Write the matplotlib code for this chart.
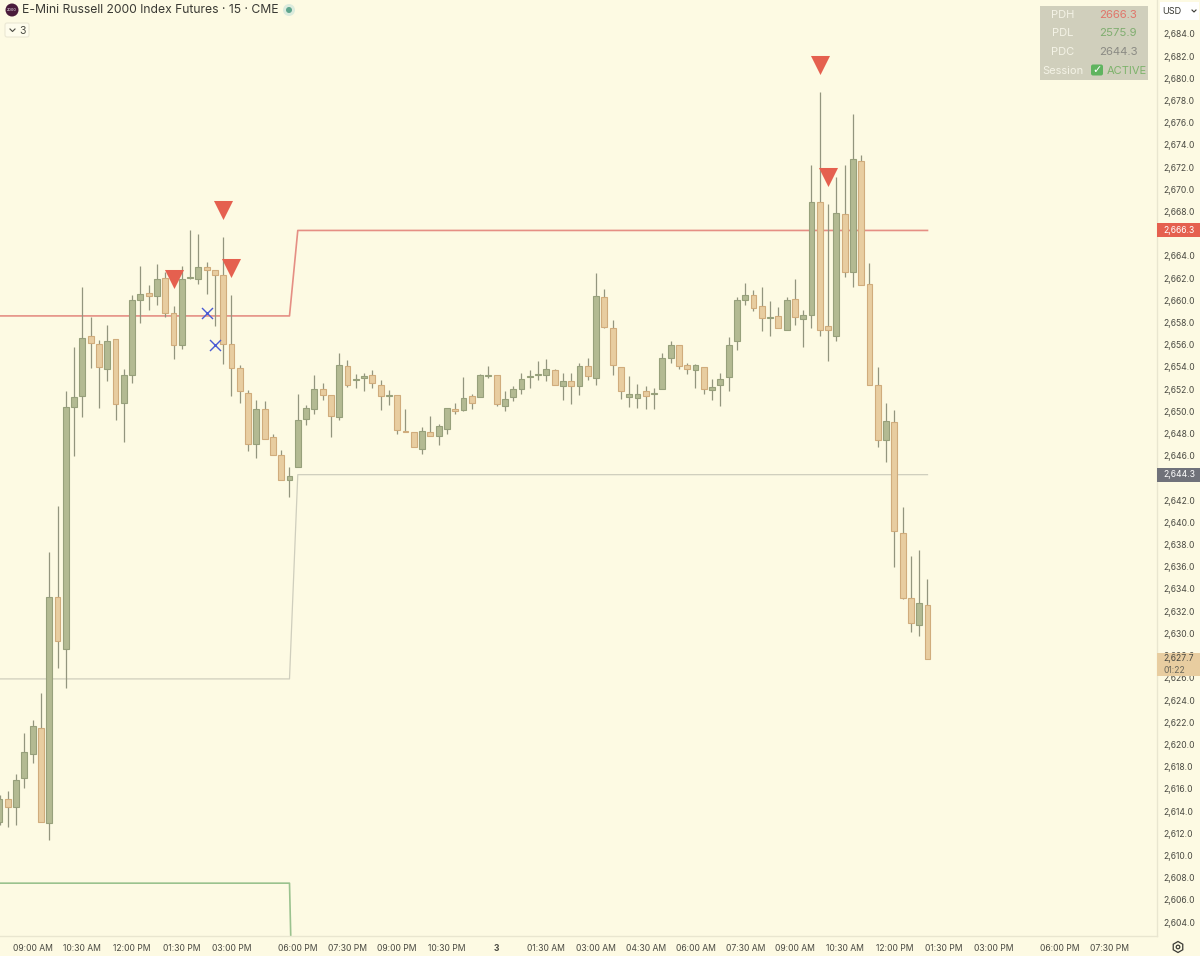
"""
E-Mini Russell 2000 15 min chart, rebuilt as plain matplotlib.
Output : out.png
"""
import matplotlib
matplotlib.use("Agg")
import matplotlib.pyplot as plt
from matplotlib.patches import Rectangle, Circle, FancyBboxPatch, RegularPolygon

plt.rcParams["font.family"] = ["Inter", "DejaVu Sans"]

# ── Candles ───────────────────────────────────────────────────
opens = [
    2613.0, 2615.1, 2614.4, 2617.0, 2619.1, 2621.5, 2612.9, 2633.3, 2628.6, 2650.4,
    2651.4, 2656.8, 2656.1, 2653.8, 2656.5, 2650.8, 2653.3, 2660.0, 2660.7, 2660.4,
    2662.0, 2658.9, 2656.0, 2662.0, 2661.9, 2663.0, 2662.7, 2662.3, 2656.1, 2653.9,
    2651.7, 2647.1, 2650.2, 2647.7, 2646.1, 2643.8, 2645.0, 2649.3, 2650.2, 2652.0,
    2651.5, 2649.5, 2654.1, 2652.8, 2653.0, 2653.3, 2652.4, 2651.4, 2651.5, 2648.2,
    2648.1, 2646.6, 2648.1, 2647.8, 2648.4, 2650.2, 2650.1, 2651.4, 2651.3, 2653.2,
    2653.3, 2650.5, 2651.3, 2652.0, 2653.1, 2653.3, 2653.3, 2653.7, 2652.3, 2652.7,
    2652.3, 2654.1, 2653.0, 2660.3, 2657.5, 2654.0, 2651.3, 2651.2, 2651.8, 2651.6,
    2652.0, 2654.8, 2656.0, 2654.2, 2653.7, 2654.0, 2651.9, 2652.4, 2653.1, 2656.3,
    2660.0, 2660.5, 2659.5, 2658.4, 2658.6, 2657.3, 2660.1, 2658.3, 2658.7, 2668.9,
    2657.7, 2656.8, 2667.8, 2662.6, 2672.6, 2661.5, 2652.4, 2647.4, 2649.0, 2639.0,
    2633.2, 2630.8, 2632.6,
]
closes = [
    2615.1, 2614.4, 2616.8, 2619.3, 2621.7, 2613.0, 2633.3, 2629.3, 2650.4, 2651.3,
    2656.6, 2656.2, 2654.0, 2656.3, 2650.7, 2653.3, 2660.0, 2660.6, 2660.4, 2661.9,
    2658.9, 2656.0, 2661.9, 2662.1, 2663.0, 2662.7, 2662.3, 2656.1, 2653.9, 2651.8,
    2647.1, 2650.2, 2647.5, 2646.1, 2643.8, 2644.2, 2649.2, 2650.3, 2652.0, 2651.5,
    2649.6, 2654.2, 2652.4, 2652.9, 2653.2, 2652.6, 2651.4, 2651.5, 2648.3, 2648.1,
    2646.8, 2648.2, 2647.8, 2648.7, 2650.3, 2650.0, 2651.2, 2650.8, 2653.3, 2653.3,
    2650.7, 2651.1, 2652.0, 2652.9, 2653.2, 2653.4, 2653.8, 2652.4, 2652.7, 2652.3,
    2654.1, 2653.2, 2660.4, 2657.6, 2654.2, 2651.8, 2651.6, 2651.6, 2651.4, 2651.7,
    2654.8, 2656.0, 2654.1, 2653.8, 2654.2, 2652.0, 2652.2, 2652.9, 2656.0, 2660.0,
    2660.5, 2659.3, 2658.4, 2658.5, 2657.5, 2660.0, 2658.5, 2658.7, 2668.9, 2657.3,
    2657.3, 2667.9, 2662.6, 2672.7, 2661.4, 2652.4, 2647.4, 2649.1, 2639.2, 2633.2,
    2630.9, 2632.7, 2627.7,
]
highs = [
    2615.4, 2615.8, 2617.3, 2621.0, 2622.2, 2624.6, 2637.3, 2641.5, 2651.8, 2655.8,
    2661.2, 2658.5, 2656.4, 2657.8, 2656.5, 2653.8, 2660.5, 2663.1, 2661.4, 2663.3,
    2662.6, 2659.5, 2663.1, 2666.3, 2666.0, 2663.5, 2662.7, 2665.7, 2660.5, 2654.2,
    2651.9, 2651.0, 2650.9, 2648.0, 2646.5, 2645.0, 2651.6, 2650.6, 2653.3, 2652.6,
    2651.5, 2655.3, 2654.6, 2653.4, 2653.5, 2653.7, 2652.8, 2651.9, 2651.5, 2650.2,
    2648.1, 2648.6, 2649.6, 2648.9, 2650.3, 2650.8, 2653.1, 2651.6, 2653.4, 2654.1,
    2653.3, 2651.8, 2652.3, 2653.5, 2653.7, 2654.5, 2654.7, 2653.8, 2653.5, 2653.5,
    2654.4, 2654.8, 2662.5, 2661.0, 2658.2, 2654.0, 2653.2, 2652.5, 2652.3, 2652.1,
    2655.3, 2656.3, 2656.0, 2654.4, 2654.3, 2654.0, 2652.9, 2653.5, 2656.7, 2660.3,
    2661.6, 2660.9, 2661.2, 2659.9, 2659.4, 2660.3, 2661.9, 2659.1, 2672.2, 2678.8,
    2668.7, 2671.1, 2672.2, 2676.8, 2673.1, 2663.4, 2654.0, 2650.8, 2650.1, 2641.4,
    2637.0, 2637.5, 2634.9,
]
lows = [
    2612.7, 2612.6, 2612.7, 2616.1, 2618.3, 2613.0, 2611.4, 2626.9, 2625.1, 2646.0,
    2649.5, 2653.9, 2650.3, 2652.7, 2649.2, 2647.2, 2652.6, 2658.0, 2659.1, 2659.6,
    2658.5, 2654.7, 2655.6, 2661.9, 2661.5, 2660.6, 2657.7, 2654.3, 2651.4, 2650.8,
    2646.4, 2645.8, 2647.5, 2646.1, 2643.8, 2642.3, 2645.0, 2648.8, 2649.8, 2651.0,
    2647.7, 2649.2, 2652.2, 2652.1, 2651.8, 2652.1, 2650.1, 2650.6, 2648.0, 2648.1,
    2646.8, 2646.2, 2647.8, 2647.0, 2648.0, 2649.8, 2650.0, 2650.2, 2651.3, 2653.0,
    2650.5, 2650.0, 2650.9, 2651.6, 2652.1, 2652.8, 2652.7, 2652.4, 2651.0, 2650.7,
    2651.5, 2652.8, 2652.4, 2657.5, 2653.3, 2651.1, 2650.4, 2650.3, 2650.2, 2650.2,
    2652.0, 2654.4, 2653.8, 2653.4, 2652.1, 2651.6, 2651.0, 2650.5, 2651.8, 2655.5,
    2659.6, 2659.0, 2657.2, 2656.8, 2657.5, 2657.3, 2657.8, 2655.8, 2657.5, 2656.8,
    2654.5, 2656.3, 2662.1, 2661.2, 2661.4, 2652.4, 2646.8, 2645.4, 2636.0, 2633.1,
    2630.1, 2629.8, 2627.7,
]

# ── Previous day levels (before and after the session change) ─
level_bars = [0, 35, 36, 112]
pdh_line = [2658.6, 2658.6, 2666.3, 2666.3]
pdc_line = [2625.9, 2625.9, 2644.3, 2644.3]
pdl_bars = [0, 35, 36]
pdl_line = [2607.5, 2607.5, 2575.9]

# ── Signals ───────────────────────────────────────────────────
sell_bars = [21, 27, 28, 99, 100]
sell_prices = [2661.9, 2668.1, 2662.9, 2681.2, 2671.1]
cross_bars = [25, 26]
cross_prices = [2658.9, 2656.0]

# ── Axis labels ───────────────────────────────────────────────
time_ticks = [4, 10, 16, 22, 28, 36, 42, 48, 54, 60, 66, 72, 78, 84, 90, 96,
              102, 108, 114, 120, 128, 134]
time_labels = ["09:00 AM", "10:30 AM", "12:00 PM", "01:30 PM", "03:00 PM",
               "06:00 PM", "07:30 PM", "09:00 PM", "10:30 PM", "3",
               "01:30 AM", "03:00 AM", "04:30 AM", "06:00 AM", "07:30 AM",
               "09:00 AM", "10:30 AM", "12:00 PM", "01:30 PM", "03:00 PM",
               "06:00 PM", "07:30 PM"]
# 2644 and 2666 never show, the level labels sit on top of them
price_ticks = [p for p in range(2604, 2686, 2) if p not in (2644, 2666)]

# ── Colours ───────────────────────────────────────────────────
BG = "#FDFAE3"
UP_FILL, UP_EDGE = "#B3BA92", "#97A07B"
DOWN_FILL, DOWN_EDGE = "#E8CDA0", "#D0AC7C"
WICK = "#93957E"
TEXT = "#4A4A42"
AXIS_FONT = 6.2

fig = plt.figure(figsize=(12, 9.56), dpi=100, facecolor=BG)
ax = fig.add_axes([0, 20 / 956, 1157 / 1200, 936 / 956], facecolor=BG)
ax.set_xlim(0.06, 139.7)
ax.set_ylim(2602.74, 2687.06)

# levels sit behind the candles
ax.plot(level_bars, pdh_line, color="#E58F84", lw=1.2, zorder=1)
ax.plot(level_bars, pdc_line, color="#CFCEBD", lw=0.9, zorder=1)
ax.plot(pdl_bars, pdl_line, color="#9AC28E", lw=1.2, zorder=1)

bars = range(len(opens))
up = [c >= o for o, c in zip(opens, closes)]
ax.vlines(bars, lows, highs, color=WICK, lw=0.9, zorder=2)
ax.bar(bars, [c - o for o, c in zip(opens, closes)], bottom=opens, width=0.72,
       color=[UP_FILL if u else DOWN_FILL for u in up],
       edgecolor=[UP_EDGE if u else DOWN_EDGE for u in up],
       linewidth=0.8, zorder=3)

ax.scatter(sell_bars, sell_prices, marker="v", s=188, color="#E5604F",
           linewidths=0, zorder=4)
ax.scatter(cross_bars, cross_prices, marker="x", s=63, color="#4A5BD4",
           linewidths=1.0, zorder=4)

# ── Axes ──────────────────────────────────────────────────────
ax.yaxis.tick_right()
ax.set_yticks(price_ticks)
ax.set_yticklabels([f"{p:,.1f}" for p in price_ticks], fontsize=AXIS_FONT, color=TEXT)
ax.set_xticks(time_ticks)
ax.set_xticklabels(time_labels, fontsize=AXIS_FONT, color=TEXT)
ax.tick_params(axis="both", length=0)
ax.tick_params(axis="y", pad=4.3)
ax.tick_params(axis="x", pad=6)
ax.get_xticklabels()[time_labels.index("3")].set_fontweight("bold")
for name, spine in ax.spines.items():
    spine.set_visible(name in ("right", "bottom"))
    spine.set_color("#E9E6D0")
    spine.set_linewidth(1.0)

# ── Price labels on the axis ──────────────────────────────────
side = ax.get_yaxis_transform()
for price, color in [(2666.3, "#E5604F"), (2644.3, "#70727A")]:
    ax.add_patch(Rectangle((1.0, price - 0.63), 0.04, 1.26, transform=side,
                           facecolor=color, edgecolor="none",
                           clip_on=False, zorder=5))
    ax.text(1.0052, price, f"{price:,.1f}", transform=side, color="white",
            fontsize=AXIS_FONT, va="center", ha="left", zorder=6)

last = closes[-1]
ax.add_patch(Rectangle((1.0, last - 1.5), 0.04, 2.05, transform=side,
                       facecolor="#E8CDA0", edgecolor="none",
                       clip_on=False, zorder=5))
ax.text(1.0052, last, f"{last:,.1f}", transform=side, color=TEXT,
        fontsize=AXIS_FONT, va="center", ha="left", zorder=6)
ax.text(1.0052, last - 1.0, "01:22", transform=side, color="#6A675A",
        fontsize=AXIS_FONT, va="center", ha="left", zorder=6)

# ── Interface pieces, placed in pixels on an overlay ──────────
ui = fig.add_axes([0, 0, 1, 1], facecolor="none", zorder=10)
ui.set_xlim(0, 1200)
ui.set_ylim(956, 0)
ui.axis("off")

# header
ui.add_patch(Circle((12, 10), 6.5, facecolor="#4A1B3A", edgecolor="none"))
ui.text(12, 10.3, "2000", color="white", fontsize=2.8, ha="center", va="center")
ui.text(22, 10, "E-Mini Russell 2000 Index Futures · 15 · CME", color="#3A3A34",
        fontsize=8.75, ha="left", va="center")
ui.add_patch(Circle((289, 10), 6, facecolor="#DCEBDD", edgecolor="none"))
ui.add_patch(Circle((289, 10), 3, facecolor="#5FA58E", edgecolor="none"))
ui.add_patch(FancyBboxPatch((5, 23), 24, 14, boxstyle="round,pad=0,rounding_size=2",
                            facecolor="#FEFCEC", edgecolor="#EBE8D4", lw=0.8))
ui.plot([10, 12.5, 15], [29, 31.5, 29], color=TEXT, lw=0.8)
ui.text(23, 30.5, "3", color=TEXT, fontsize=7.5, ha="center", va="center")

# status table
ui.add_patch(Rectangle((1040, 6), 108, 74, facecolor="#D0CFBC", edgecolor="none"))
rows = [("PDH", "2666.3", "#E0766A", 15), ("PDL", "2575.9", "#80AE70", 33),
        ("PDC", "2644.3", "#8B8B84", 52)]
for name, value, color, y in rows:
    ui.text(1063, y, name, color="#F4F3E6", fontsize=8, ha="center", va="center")
    ui.text(1118, y, value, color=color, fontsize=8.2, ha="center", va="center")
ui.text(1063, 70.5, "Session", color="#F4F3E6", fontsize=8, ha="center", va="center")
ui.add_patch(FancyBboxPatch((1091, 64.5), 12, 11, boxstyle="round,pad=0,rounding_size=2",
                            facecolor="#5FB45F", edgecolor="none"))
ui.text(1097, 70, "✓", color="white", fontsize=8, fontweight="bold",
        family="DejaVu Sans", ha="center", va="center")
ui.text(1126.5, 70.5, "ACTIVE", color="#7DB36B", fontsize=8, ha="center", va="center")

# currency box
ui.add_patch(Rectangle((1160, 2), 39, 18, facecolor="white", edgecolor="none"))
ui.text(1162.5, 11, "USD", color="#3A3A34", fontsize=6.6, ha="left", va="center")
ui.plot([1192, 1194, 1196], [10, 12, 10], color="#3A3A34", lw=0.8)

# settings button
ui.add_patch(RegularPolygon((1178, 947), 6, radius=5.5, facecolor="none",
                            edgecolor="#3A3A34", lw=0.9))
ui.add_patch(Circle((1178, 947), 1.8, facecolor="none", edgecolor="#3A3A34", lw=0.9))

fig.savefig("out.png", dpi=100, facecolor=fig.get_facecolor())
plt.close(fig)
